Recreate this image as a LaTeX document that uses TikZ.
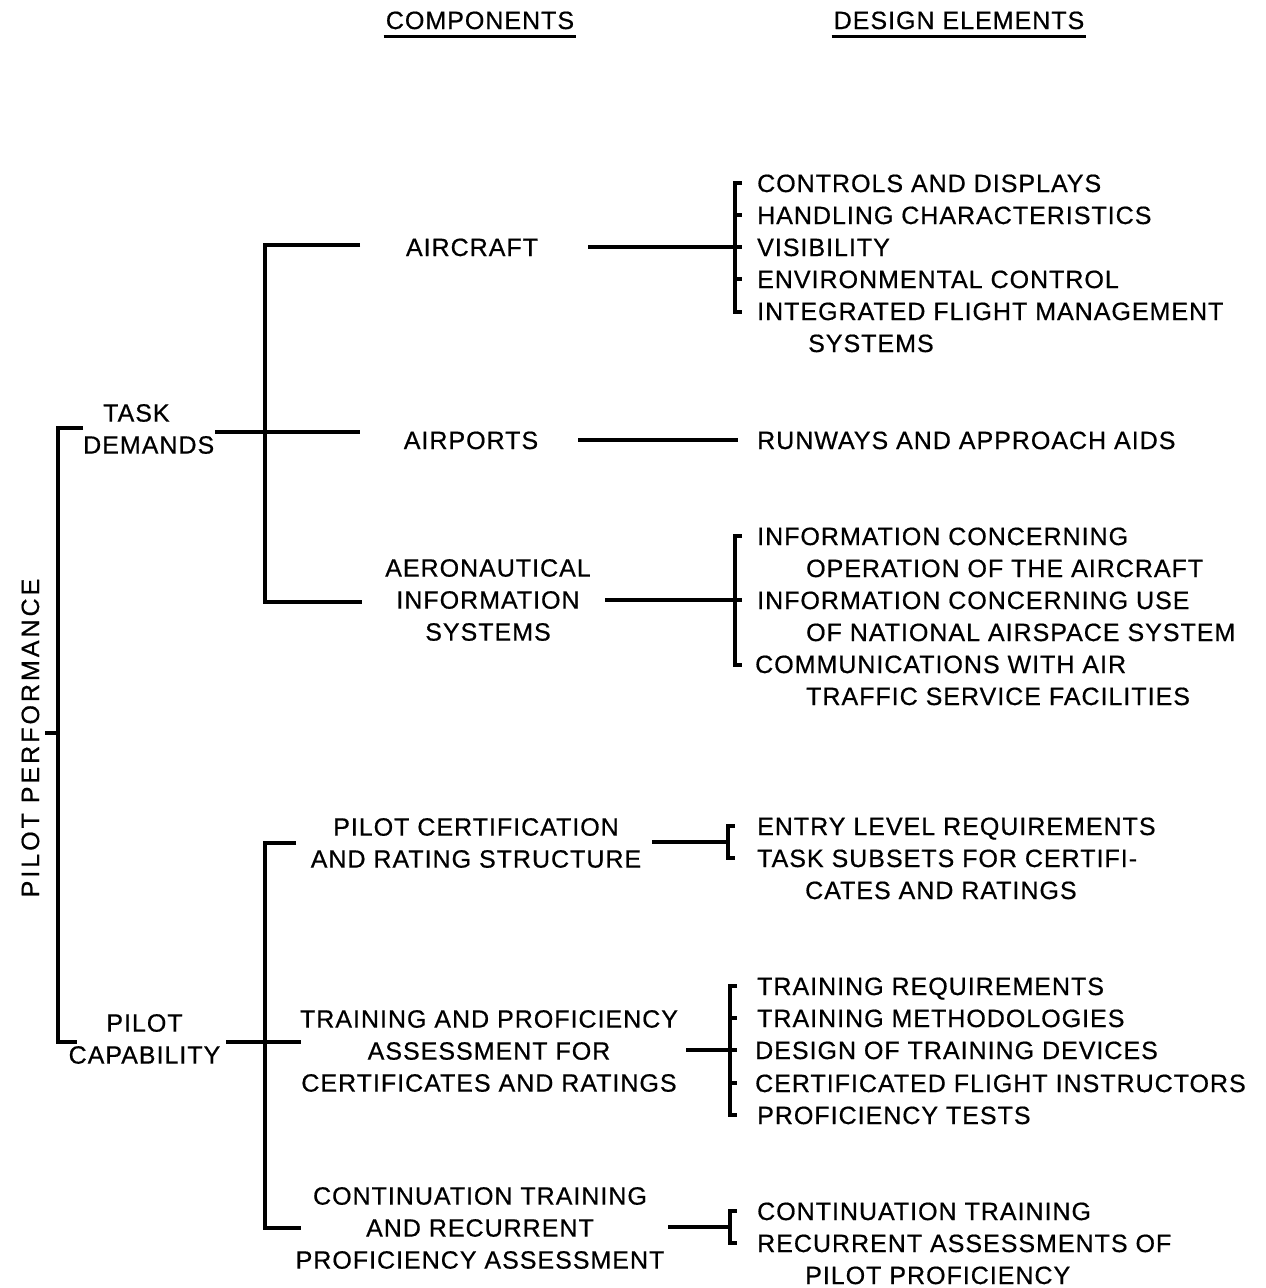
\documentclass[tikz,border=0pt]{standalone}
\usepackage{fontspec}
\setmainfont{Liberation Sans}[LetterSpace=4,FakeBold=0.6]
\begin{document}
\begin{tikzpicture}[x=1pt,y=-1pt,
  every node/.style={font=\fontsize{25}{32}\selectfont, inner sep=0pt},
  item/.style={anchor=west, text height=18pt, text depth=0pt},
  comp/.style={align=center},
  ln/.style={line width=3.2pt, line join=miter, line cap=butt},
  hd/.style={line width=3.4pt}]
\fill[white] (0,0) rectangle (1266,1288);
\path[use as bounding box] (0,0) rectangle (1266,1288);

% headers
\node[text height=18pt,text depth=0pt] (hc) at (480,20) {COMPONENTS};
\node[text height=18pt,text depth=0pt] (hd) at (959,20) {DESIGN ELEMENTS};
\draw[hd] ([xshift=-2pt,yshift=-7pt]hc.south west) -- ([xshift=2pt,yshift=-7pt]hc.south east);
\draw[hd] ([xshift=-2pt,yshift=-7pt]hd.south west) -- ([xshift=2pt,yshift=-7pt]hd.south east);

% root
\node[rotate=90, font=\fontsize{25}{32}\selectfont\addfontfeature{LetterSpace=12}, text height=18pt, text depth=0pt] (pp) at (30,738) {PILOT PERFORMANCE};
\node[align=left, anchor=west] (td) at (83,429) {\hspace*{20pt}TASK\\DEMANDS};
\node[align=center] (pc) at (144.5,1039) {PILOT\\CAPABILITY};

% components
\node (ac) at (472,247) [text height=18pt,text depth=0pt] {AIRCRAFT};
\node (ap) at (471,440) [text height=18pt,text depth=0pt] {AIRPORTS};
\node[comp] (ai) at (488,600) {AERONAUTICAL\\INFORMATION\\SYSTEMS};
\node[comp] (cr) at (476,843) {PILOT CERTIFICATION\\AND RATING STRUCTURE};
\node[comp] (tp) at (489,1051) {TRAINING AND PROFICIENCY\\ASSESSMENT FOR\\CERTIFICATES AND RATINGS};
\node[comp] (ct) at (480,1228) {CONTINUATION TRAINING\\AND RECURRENT\\PROFICIENCY ASSESSMENT};

% design elements
\node[item] (a1) at (757,183) {CONTROLS AND DISPLAYS};
\node[item] (a2) at (757,215) {HANDLING CHARACTERISTICS};
\node[item] (a3) at (757,247) {VISIBILITY};
\node[item] (a4) at (757,279) {ENVIRONMENTAL CONTROL};
\node[item] (a5) at (757,311) {INTEGRATED FLIGHT MANAGEMENT};
\node[item] (a6) at (808,343) {SYSTEMS};
\node[item] (p1) at (757,440) {RUNWAYS AND APPROACH AIDS};
\node[item] (i1) at (757,536) {INFORMATION CONCERNING};
\node[item] (i2) at (806,568) {OPERATION OF THE AIRCRAFT};
\node[item] (i3) at (757,600) {INFORMATION CONCERNING USE};
\node[item] (i4) at (806,632) {OF NATIONAL AIRSPACE SYSTEM};
\node[item] (i5) at (755,664) {COMMUNICATIONS WITH AIR};
\node[item] (i6) at (806,696) {TRAFFIC SERVICE FACILITIES};
\node[item] (c1) at (757,826) {ENTRY LEVEL REQUIREMENTS};
\node[item] (c2) at (757,858) {TASK SUBSETS FOR CERTIFI-};
\node[item] (c3) at (805,890) {CATES AND RATINGS};
\node[item] (t1) at (757,986) {TRAINING REQUIREMENTS};
\node[item] (t2) at (757,1018) {TRAINING METHODOLOGIES};
\node[item] (t3) at (755,1050) {DESIGN OF TRAINING DEVICES};
\node[item] (t4) at (755,1083) {CERTIFICATED FLIGHT INSTRUCTORS};
\node[item] (t5) at (757,1115) {PROFICIENCY TESTS};
\node[item] (r1) at (757,1211) {CONTINUATION TRAINING};
\node[item] (r2) at (757,1243) {RECURRENT ASSESSMENTS OF};
\node[item] (r3) at (805,1275) {PILOT PROFICIENCY};

% root trunk
\coordinate (ppt) at (45,733);
\coordinate (rt) at (58,428);
\coordinate (rb) at (58,1042);
\draw[ln] (83,428) -- (rt) -- (rb) -- (77,1042);
\draw[ln] (ppt) -- (58,733);

% task demands trunk
\coordinate (tdA) at (360,245);
\coordinate (tdP) at (360,432);
\coordinate (tdI) at (362,602);
\draw[ln] (tdA) -- (265,245) -- (265,602) -- (tdI);
\draw[ln] (215,432) -- (tdP);

% pilot capability trunk
\coordinate (pcC) at (296,843);
\coordinate (pcT) at (301,1042);
\coordinate (pcR) at (301,1228);
\draw[ln] (pcC) -- (265,843) -- (265,1228) -- (pcR);
\draw[ln] (226,1042) -- (pcT);

% component -> design connectors and brackets
\coordinate (jA) at (735,247);
\draw[ln] (588,247) -- (jA);
\draw[ln] (742,183) -- (735,183) -- (735,312) -- (742,312);
\foreach \yy in {215,247,279} \draw[ln] (735,\yy) -- (742,\yy);

\coordinate (jP) at (738,440);
\draw[ln] (578,440) -- (jP);

\coordinate (jI) at (735,600);
\draw[ln] (605,600) -- (jI);
\draw[ln] (742,536) -- (735,536) -- (735,665) -- (742,665);
\draw[ln] (735,600) -- (742,600);

\coordinate (jC) at (728,842);
\draw[ln] (652,842) -- (jC);
\draw[ln] (735,826) -- (728,826) -- (728,858) -- (735,858);

\coordinate (jT) at (730,1050);
\draw[ln] (686,1050) -- (jT);
\draw[ln] (737,986) -- (730,986) -- (730,1115) -- (737,1115);
\foreach \yy in {1018,1050,1083} \draw[ln] (730,\yy) -- (737,\yy);

\coordinate (jR) at (730,1227);
\draw[ln] (668,1227) -- (jR);
\draw[ln] (737,1211) -- (730,1211) -- (730,1243) -- (737,1243);
\end{tikzpicture}
\end{document}
